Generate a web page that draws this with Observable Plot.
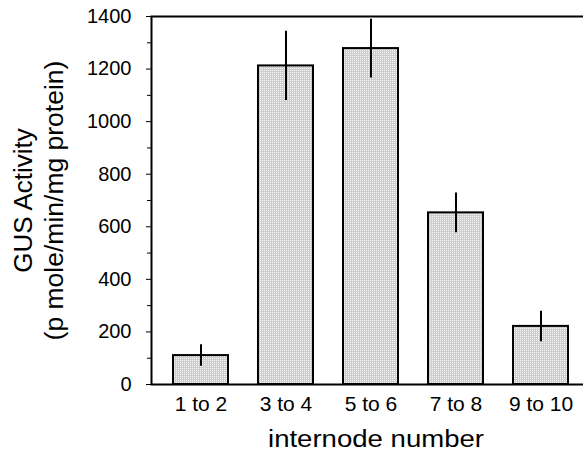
<!DOCTYPE html>
<html>
<head>
<meta charset="utf-8">
<script src="https://cdn.jsdelivr.net/npm/d3@7"></script>
<script src="https://cdn.jsdelivr.net/npm/@observablehq/plot@0.6"></script>
<style>
  html, body { margin: 0; padding: 0; background: #fff; overflow: hidden; width: 583px; height: 455px; }
  svg { display: block; max-width: none !important; font-family: "Liberation Sans", Arial, sans-serif; }
</style>
</head>
<body>
<div id="chart"></div>
<script>
const categories = ["1 to 2", "3 to 4", "5 to 6", "7 to 8", "9 to 10"];
const activity = [110, 1212, 1278, 653, 221];
const errors = [41, 132, 112, 76, 58];
const majorTicks = [0, 200, 400, 600, 800, 1000, 1200, 1400];
const minorTicks = [100, 300, 500, 700, 900, 1100, 1300];
const yTitle = ["GUS Activity", "(p mole/min/mg protein)"];
const xTitle = "internode number";

const data = categories.map((c, i) => ({
  cat: c, value: activity[i], lo: activity[i] - errors[i], hi: activity[i] + errors[i]
}));

const chart = Plot.plot({
  width: 592,
  height: 455,
  marginLeft: 151,
  marginRight: 4,
  marginTop: 16,
  marginBottom: 71,
  style: { fontFamily: "'Liberation Sans', Arial, sans-serif", background: "#fff", overflow: "visible", maxWidth: "none" },
  x: { domain: categories, range: [157.5, 582.5], paddingInner: 0.353, paddingOuter: 0.1765, label: null },
  y: { domain: [0, 1400], label: null },
  marks: [
    Plot.barY(data, { x: "cat", y: "value", fill: "#d8d8d8", stroke: "#000", strokeWidth: 2, className: "bars" }),
    Plot.ruleX(data, { x: "cat", y1: "lo", y2: "hi", stroke: "#000", strokeWidth: 2 }),
    Plot.frame({ stroke: "#000", strokeWidth: 2 }),
    Plot.axisY({ ticks: majorTicks, tickFormat: d3.format("d"), tickSize: 5, tickPadding: 15, tickWidth: 2, fontSize: 20, label: null, color: "#000" }),
    Plot.axisY({ ticks: minorTicks, tickSize: 4, tickFormat: () => "", tickWidth: 2, label: null }),
    Plot.axisX({ tickSize: 0, tickPadding: 12, fontSize: 21, label: null, color: "#000" }),
    Plot.text([yTitle[0]], { frameAnchor: "left", dx: -128, rotate: -90, textAnchor: "middle", lineAnchor: "middle", fontSize: 26, fill: "#000", text: d => d }),
    Plot.text([yTitle[1]], { frameAnchor: "left", dx: -97, rotate: -90, textAnchor: "middle", lineAnchor: "middle", fontSize: 26.5, fill: "#000", text: d => d }),
    Plot.text([xTitle], { frameAnchor: "bottom", dx: 6, dy: 55, textAnchor: "middle", lineAnchor: "middle", fontSize: 23, fill: "#000", text: d => d, className: "xtitle" })
  ]
});
document.getElementById("chart").appendChild(chart);

// stippled bar fill, as in the printed original
const ns = "http://www.w3.org/2000/svg";
const defs = document.createElementNS(ns, "defs");
const pat = document.createElementNS(ns, "pattern");
pat.setAttribute("id", "stipple");
pat.setAttribute("patternUnits", "userSpaceOnUse");
pat.setAttribute("width", 2);
pat.setAttribute("height", 2);
const bg = document.createElementNS(ns, "rect");
bg.setAttribute("width", 2); bg.setAttribute("height", 2); bg.setAttribute("fill", "#cdcdcd");
const dot = document.createElementNS(ns, "rect");
dot.setAttribute("width", 1); dot.setAttribute("height", 1); dot.setAttribute("fill", "#f8f8f8");
pat.appendChild(bg); pat.appendChild(dot); defs.appendChild(pat);
chart.insertBefore(defs, chart.firstChild);
chart.querySelectorAll("g.bars, .bars").forEach(g => {
  g.setAttribute("fill", "url(#stipple)");
  g.querySelectorAll("rect").forEach(r => r.setAttribute("fill", "url(#stipple)"));
});

// the scanned original is slightly stretched horizontally: widen the x title to its measured width
chart.querySelectorAll(".xtitle text").forEach(t => {
  t.setAttribute("textLength", 216);
  t.setAttribute("lengthAdjust", "spacingAndGlyphs");
});
</script>
</body>
</html>
